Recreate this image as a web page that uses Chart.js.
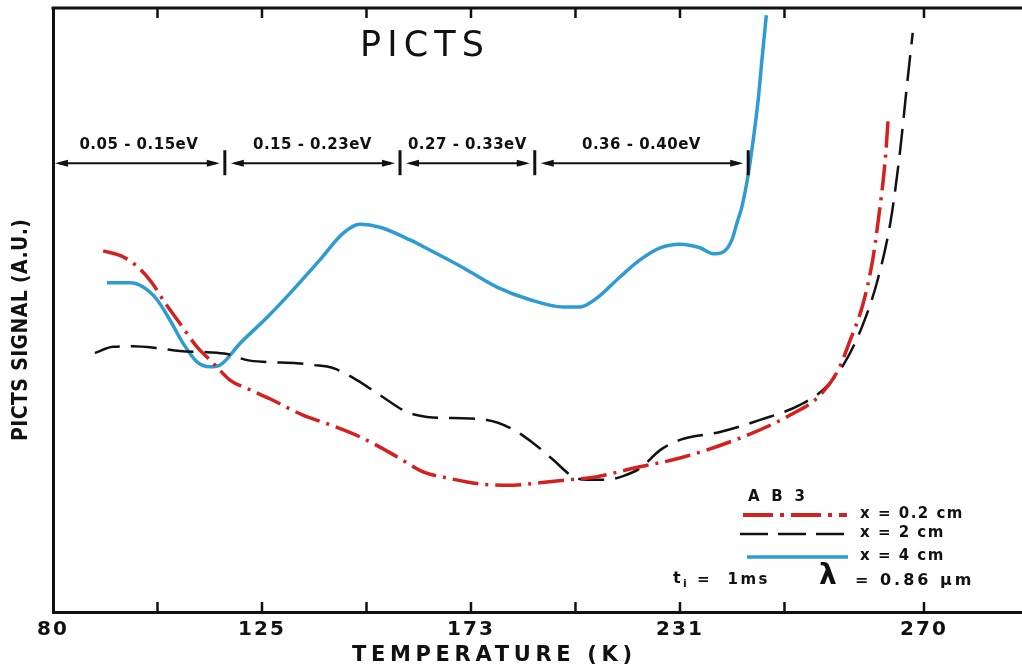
<!DOCTYPE html>
<html>
<head>
<meta charset="utf-8">
<script src="https://cdn.jsdelivr.net/npm/chart.js@4.4.0/dist/chart.umd.min.js"></script>
<style>
    html, body { margin: 0; padding: 0; background: #fff; }
</style>
</head>
<body>
<canvas id="pictsChart" width="1022" height="667"></canvas>
<script>
// Curve data: temperature (K) and PICTS signal (a.u.)
const redTemp = [90.8, 95.1, 98.3, 101.3, 104.1, 107.3, 111.0, 114.5, 118.1, 122.4, 126.8, 134.4, 140.6, 147.5, 152.1, 156.0, 162.0, 167.5, 175.5, 184.7, 192.1, 200.5, 208.0, 218.0, 231.0, 240.6, 248.6, 253.4, 256.3, 258.2, 260.2, 261.8, 262.7, 263.8, 264.3];
const redSignal = [59.8, 58.8, 57.1, 54.5, 51.2, 47.8, 43.9, 41.2, 38.4, 36.8, 35.3, 32.6, 31.0, 29.0, 27.3, 25.7, 23.2, 22.2, 21.2, 21.0, 21.4, 21.9, 22.4, 23.8, 25.5, 28.8, 32.6, 35.9, 40.1, 45.0, 50.8, 58.3, 64.9, 74.8, 82.0];

const blackTemp = [89.0, 92.9, 97.2, 102.4, 107.3, 113.2, 117.5, 121.8, 126.2, 133.0, 136.7, 141.3, 146.8, 152.1, 158.3, 162.9, 168.9, 177.4, 183.8, 190.2, 195.8, 201.3, 205.2, 210.7, 215.2, 219.9, 225.5, 231.0, 237.4, 243.8, 250.2, 254.2, 257.4, 260.2, 262.6, 264.7, 266.2, 267.2, 268.2];
const blackSignal = [42.9, 43.9, 44.0, 43.7, 43.2, 43.0, 42.7, 41.7, 41.4, 41.2, 40.9, 40.4, 38.4, 35.9, 33.1, 32.3, 32.1, 31.8, 30.5, 28.0, 25.2, 22.4, 21.9, 21.9, 22.5, 23.8, 26.8, 28.5, 29.8, 31.8, 34.3, 37.1, 41.4, 47.5, 55.0, 64.9, 76.5, 86.4, 95.9];

const blueTemp = [91.6, 96.6, 99.4, 102.4, 105.2, 108.0, 111.0, 113.8, 116.0, 120.3, 126.2, 132.1, 138.3, 143.6, 147.5, 152.1, 159.0, 163.6, 171.2, 180.2, 189.4, 198.5, 203.2, 208.0, 214.4, 219.9, 225.5, 231.0, 234.2, 236.3, 237.9, 239.3, 240.1, 240.9, 241.9, 242.7, 243.5, 244.1, 244.8];
const blueSignal = [54.5, 54.5, 53.8, 51.7, 48.3, 44.5, 41.4, 40.6, 40.9, 44.5, 48.8, 53.3, 58.3, 62.7, 64.2, 63.7, 61.6, 59.9, 57.0, 53.8, 51.7, 50.5, 50.5, 52.0, 55.5, 58.3, 60.3, 60.9, 60.3, 59.3, 59.6, 61.6, 64.4, 67.1, 72.4, 78.1, 84.8, 91.4, 98.8];

// Axis: labelled temperatures sit at these tick positions (the axis is not linear in K)
const labelTemps = [80, 125, 173, 231, 270];
const labelPos = [0, 2, 4, 6, 8.335];
const tickPos = [0, 1, 2, 3, 4, 5, 6, 7, 8.335];
const tickText = ['80', '', '125', '', '173', '', '231', '', '270'];

// Activation energy ranges
const bandEdges = [80, 117.0, 156.7, 190.7, 241.9];
const bandLabels = ['0.05 - 0.15eV', '0.15 - 0.23eV', '0.27 - 0.33eV', '0.36 - 0.40eV'];

function tToPos(t) {
    for (let i = 0; i < labelTemps.length - 1; i++) {
        if (t <= labelTemps[i + 1] || i === labelTemps.length - 2) {
            const f = (t - labelTemps[i]) / (labelTemps[i + 1] - labelTemps[i]);
            return labelPos[i] + f * (labelPos[i + 1] - labelPos[i]);
        }
    }
}

function points(temps, signal) {
    return temps.map((t, i) => ({ x: tToPos(t), y: signal[i] }));
}

const RED = '#d61f1f';
const BLUE = '#2f9bd5';
const INK = '#111';

// text stretched between two points
function spacedText(ctx, txt, x0, x1, y, font) {
    ctx.font = font;
    ctx.letterSpacing = '0px';
    const w = ctx.measureText(txt).width;
    const sp = (x1 - x0 - w) / (txt.length - 1);
    ctx.letterSpacing = sp + 'px';
    ctx.textAlign = 'left';
    ctx.textBaseline = 'middle';
    ctx.fillText(txt, x0, y);
    ctx.letterSpacing = '0px';
}

function arrowHead(ctx, x, y, dir) {
    ctx.beginPath();
    ctx.moveTo(x, y);
    ctx.lineTo(x - dir * 13, y - 3.5);
    ctx.lineTo(x - dir * 13, y + 3.5);
    ctx.closePath();
    ctx.fill();
}

const decor = {
    id: 'decor',
    beforeDraw(chart) {
        chart.ctx.letterSpacing = '2px';
    },
    afterDraw(chart) {
        const { ctx, chartArea: a, scales: { x, y } } = chart;
        ctx.save();
        ctx.strokeStyle = INK;
        ctx.fillStyle = INK;

        // top frame and inward ticks
        ctx.lineWidth = 3;
        ctx.beginPath();
        ctx.moveTo(a.left - 1.5, a.top);
        ctx.lineTo(a.right, a.top);
        ctx.stroke();
        ctx.lineWidth = 2.5;
        tickPos.slice(1).forEach(v => {
            const px = x.getPixelForValue(v);
            ctx.beginPath();
            ctx.moveTo(px, a.top);
            ctx.lineTo(px, a.top + 10);
            ctx.moveTo(px, a.bottom);
            ctx.lineTo(px, a.bottom - 10);
            ctx.stroke();
        });

        // titles
        ctx.letterSpacing = '0px';
        spacedText(ctx, 'PICTS', 360, 484, 47, '35px "DejaVu Sans"');
        spacedText(ctx, 'TEMPERATURE (K)', 352, 632, 656, 'bold 21px "DejaVu Sans"');
        ctx.save();
        ctx.translate(22, 330);
        ctx.rotate(-Math.PI / 2);
        spacedText(ctx, 'PICTS SIGNAL (A.U.)', -111, 111, 0, 'bold 21px "DejaVu Sans Condensed"');
        ctx.restore();

        // energy ranges
        const yArrow = y.getPixelForValue(74.3);
        const yLabel = y.getPixelForValue(77.3);
        const edges = bandEdges.map(t => x.getPixelForValue(tToPos(t)));
        ctx.lineWidth = 3;
        edges.slice(1).forEach(px => {
            ctx.beginPath();
            ctx.moveTo(px, yArrow - 13);
            ctx.lineTo(px, yArrow + 12);
            ctx.stroke();
        });
        ctx.lineWidth = 1.8;
        for (let i = 0; i < bandLabels.length; i++) {
            const x0 = edges[i] + (i === 0 ? 2 : 6);
            const x1 = edges[i + 1] - 5;
            ctx.beginPath();
            ctx.moveTo(x0 + 4, yArrow);
            ctx.lineTo(x1 - 4, yArrow);
            ctx.stroke();
            arrowHead(ctx, x0, yArrow, -1);
            arrowHead(ctx, x1, yArrow, 1);
            ctx.font = 'bold 15px "DejaVu Sans"';
            ctx.letterSpacing = '0.5px';
            ctx.textAlign = 'center';
            ctx.textBaseline = 'middle';
            ctx.fillText(bandLabels[i], (edges[i] + edges[i + 1]) / 2, yLabel);
        }

        // legend block
        ctx.letterSpacing = '0px';
        spacedText(ctx, 'A B 3', 748, 805, 497, 'bold 15px "DejaVu Sans"');
        const rows = [
            { c: RED, w: 4, dash: [30, 7, 4, 7], x0: 743, x1: 847, y: 515, t: 'x = 0.2 cm' },
            { c: INK, w: 2.5, dash: [28, 10], x0: 740, x1: 845, y: 534, t: 'x = 2 cm' },
            { c: BLUE, w: 3.5, dash: [], x0: 747, x1: 848, y: 557, t: 'x = 4 cm' }
        ];
        rows.forEach(r => {
            ctx.strokeStyle = r.c;
            ctx.lineWidth = r.w;
            ctx.setLineDash(r.dash);
            ctx.beginPath();
            ctx.moveTo(r.x0, r.y);
            ctx.lineTo(r.x1, r.y);
            ctx.stroke();
            ctx.setLineDash([]);
            ctx.fillStyle = INK;
            ctx.font = 'bold 15px "DejaVu Sans"';
            ctx.letterSpacing = '1.5px';
            ctx.textAlign = 'left';
            ctx.textBaseline = 'middle';
            ctx.fillText(r.t, 860, r.y - 1);
        });

        ctx.letterSpacing = '0px';
        ctx.font = 'bold 16px "DejaVu Sans"';
        ctx.fillText('t', 673, 579);
        ctx.font = 'bold 11px "DejaVu Sans"';
        ctx.fillText('i', 683, 584);
        ctx.font = 'bold 15px "DejaVu Sans"';
        ctx.letterSpacing = '2.5px';
        ctx.fillText('=  1ms', 697, 580);
        ctx.letterSpacing = '0px';
        ctx.font = 'bold 28px "DejaVu Sans"';
        ctx.fillText('λ', 819, 577);
        ctx.font = 'bold 16px "DejaVu Sans"';
        ctx.letterSpacing = '3px';
        ctx.fillText('= 0.86 μm', 855, 581);
        ctx.restore();
    }
};

const ctx = document.getElementById('pictsChart');
new Chart(ctx, {
    type: 'line',
    data: {
        datasets: [
            {
                label: 'x = 0.2 cm',
                data: points(redTemp, redSignal),
                borderColor: RED,
                borderWidth: 3.5,
                borderDash: [26, 7, 3, 7],
                pointRadius: 0,
                cubicInterpolationMode: 'monotone'
            },
            {
                label: 'x = 2 cm',
                data: points(blackTemp, blackSignal),
                borderColor: INK,
                borderWidth: 2.5,
                borderDash: [26, 11],
                pointRadius: 0,
                cubicInterpolationMode: 'monotone'
            },
            {
                label: 'x = 4 cm',
                data: points(blueTemp, blueSignal),
                borderColor: BLUE,
                borderWidth: 3.5,
                pointRadius: 0,
                cubicInterpolationMode: 'monotone'
            }
        ]
    },
    options: {
        responsive: false,
        animation: false,
        layout: { padding: { top: 8, right: 0, bottom: 0, left: 0 } },
        plugins: {
            legend: { display: false },
            tooltip: { enabled: false }
        },
        scales: {
            x: {
                type: 'linear',
                min: 0,
                max: 9.273,
                afterFit(scale) { scale.height = 55; },
                afterBuildTicks(scale) {
                    scale.ticks = tickPos.map(v => ({ value: v }));
                },
                ticks: {
                    autoSkip: false,
                    maxRotation: 0,
                    padding: 6,
                    color: INK,
                    font: { family: 'DejaVu Sans', size: 20, weight: 'bold' },
                    callback: (v, i) => tickText[i]
                },
                grid: { display: true, drawOnChartArea: false, drawTicks: false },
                border: { display: true, color: INK, width: 3 }
            },
            y: {
                min: 0,
                max: 100,
                afterFit(scale) { scale.width = 53; },
                ticks: { display: false },
                grid: { display: true, drawOnChartArea: false, drawTicks: false },
                border: { display: true, color: INK, width: 3 }
            }
        }
    },
    plugins: [decor]
});
</script>
</body>
</html>
